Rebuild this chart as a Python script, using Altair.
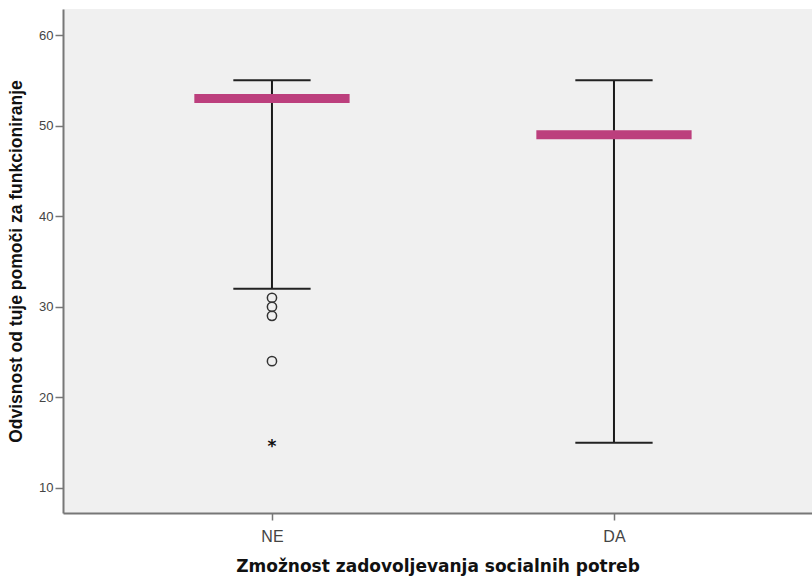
import altair as alt
import pandas as pd

# Groups and summary statistics
categories = ["NE", "DA"]
medians = [53, 49]
whisker_low = [32, 15]
whisker_high = [55, 55]
outlier_groups = ["NE", "NE", "NE", "NE"]
outlier_values = [31, 30, 29, 24]
extreme_groups = ["NE"]
extreme_values = [15]
y_ticks = [10, 20, 30, 40, 50, 60]

pos = {c: i + 1 for i, c in enumerate(categories)}
CAP_HALF = 0.113
MED_HALF = 0.227

box = pd.DataFrame({
    "group": categories,
    "x": [pos[c] for c in categories],
    "median": medians,
    "low": whisker_low,
    "high": whisker_high,
})
box["cap_l"] = box["x"] - CAP_HALF
box["cap_r"] = box["x"] + CAP_HALF
box["med_l"] = box["x"] - MED_HALF
box["med_r"] = box["x"] + MED_HALF

outl = pd.DataFrame({"x": [pos[g] for g in outlier_groups], "v": outlier_values})
extr = pd.DataFrame({"x": [pos[g] for g in extreme_groups], "v": extreme_values, "s": ["*"] * len(extreme_values)})

label_expr = " : ".join(
    [f"datum.value == {pos[c]} ? '{c}'" for c in categories]
) + " : ''"

x_scale = alt.Scale(domain=[0.389, 2.579], nice=False, zero=False)
y_scale = alt.Scale(domain=[7.24, 62.87], nice=False, zero=False)

x_axis = alt.Axis(
    values=[pos[c] for c in categories], labelExpr=label_expr,
    title="Zmožnost zadovoljevanja socialnih potreb",
    titleFont="DejaVu Sans", titleFontSize=17, titleFontWeight="bold", titleColor="#111",
    titlePadding=14,
    labelFont="Liberation Sans", labelFontSize=16, labelColor="#444", labelPadding=8,
    domainColor="#777", domainWidth=2, tickColor="#777", tickSize=7, tickWidth=1.5,
    grid=False,
)
y_axis = alt.Axis(
    values=y_ticks, title="Odvisnost od tuje pomoči za funkcioniranje",
    titleFont="Liberation Sans", titleFontSize=17.5, titleFontWeight="bold", titleColor="#111",
    titlePadding=13,
    labelFont="Liberation Sans", labelFontSize=13, labelColor="#444", labelPadding=2,
    domainColor="#777", domainWidth=2, tickColor="#777", tickSize=8, tickWidth=1.5,
    grid=False,
)

base = alt.Chart(box)

whisker = base.mark_rule(color="#1a1a1a", strokeWidth=2).encode(
    x=alt.X("x:Q", scale=x_scale, axis=x_axis),
    y=alt.Y("low:Q", scale=y_scale, axis=y_axis),
    y2="high:Q",
)
cap_top = base.mark_rule(color="#222", strokeWidth=2).encode(
    x=alt.X("cap_l:Q", scale=x_scale), x2="cap_r:Q", y=alt.Y("high:Q", scale=y_scale)
)
cap_bot = base.mark_rule(color="#222", strokeWidth=2).encode(
    x=alt.X("cap_l:Q", scale=x_scale), x2="cap_r:Q", y=alt.Y("low:Q", scale=y_scale)
)
median = base.mark_rule(color="#bc3f7d", strokeWidth=9, strokeCap="butt").encode(
    x=alt.X("med_l:Q", scale=x_scale), x2="med_r:Q", y=alt.Y("median:Q", scale=y_scale)
)
circles = alt.Chart(outl).mark_point(
    shape="circle", size=85, filled=False, color="#333", strokeWidth=1.5, opacity=1
).encode(x=alt.X("x:Q", scale=x_scale), y=alt.Y("v:Q", scale=y_scale))
stars = alt.Chart(extr).mark_text(
    font="DejaVu Sans", fontSize=17, fontWeight="bold", color="#111", dy=4
).encode(x=alt.X("x:Q", scale=x_scale), y=alt.Y("v:Q", scale=y_scale), text="s:N")

chart = alt.layer(whisker, cap_top, cap_bot, median, circles, stars).properties(
    width=749, height=504,
    autosize=alt.AutoSizeParams(type="none"),
    padding={"left": 63, "top": 9, "right": 0, "bottom": 64},
    background="white",
).configure_view(fill="#f0f0f0", stroke=None)

chart.save("out.html", embed_options={"renderer": "svg", "actions": False})
